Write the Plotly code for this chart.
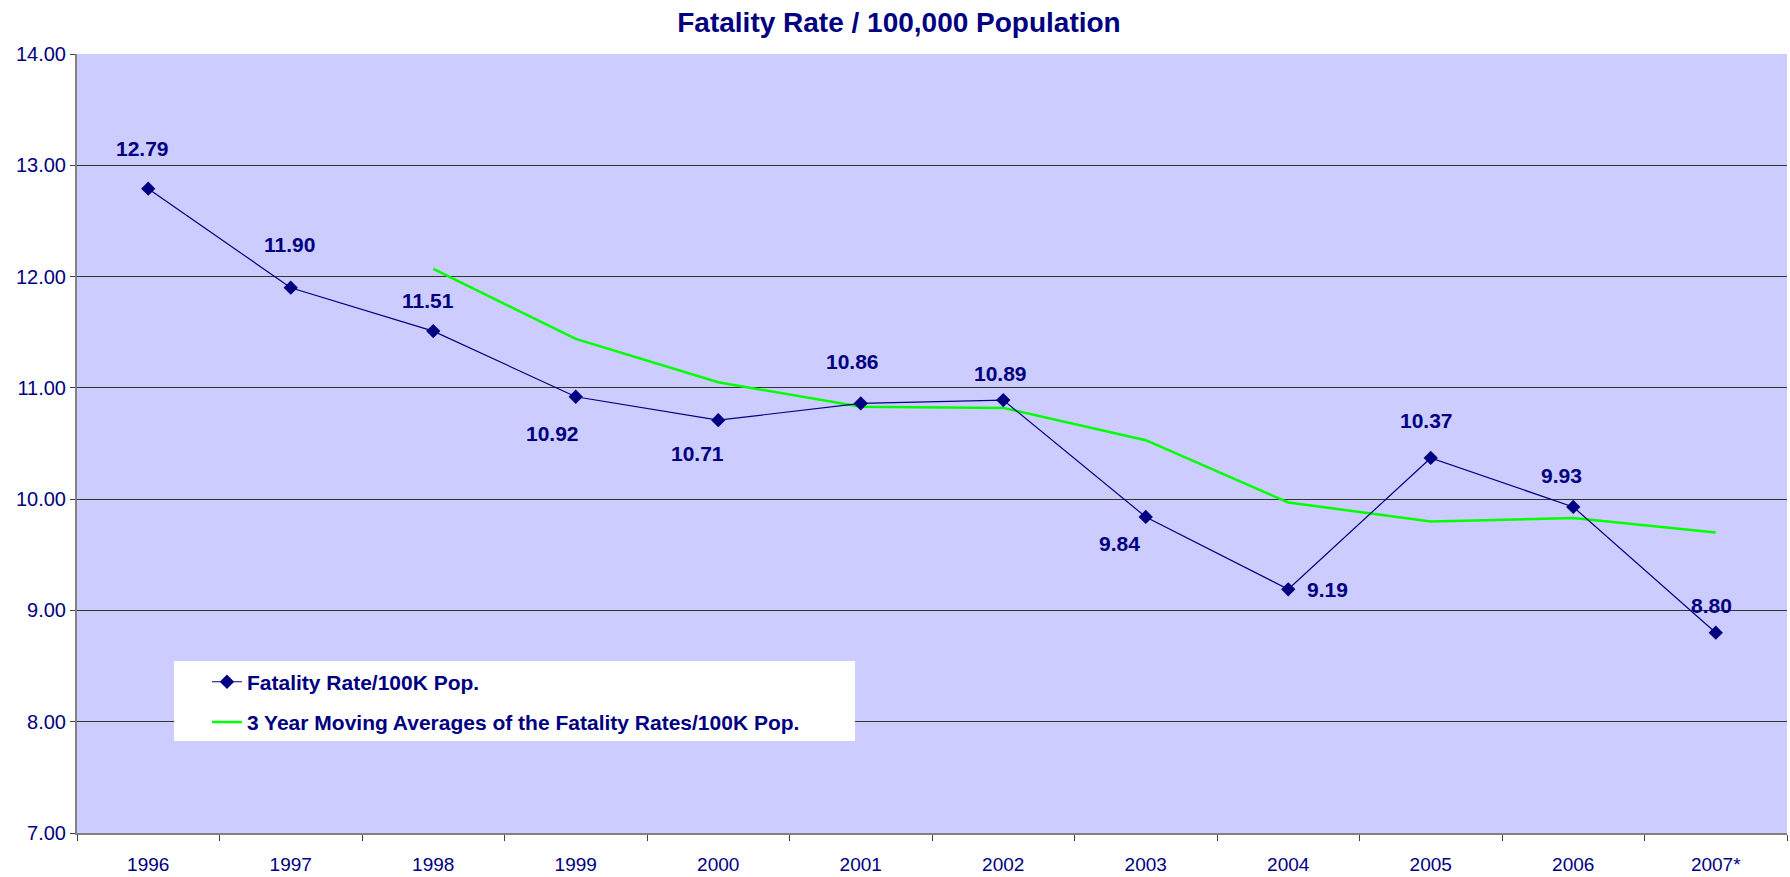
import plotly.graph_objects as go

years = ["1996", "1997", "1998", "1999", "2000", "2001", "2002", "2003", "2004", "2005", "2006", "2007*"]
rate = [12.79, 11.90, 11.51, 10.92, 10.71, 10.86, 10.89, 9.84, 9.19, 10.37, 9.93, 8.80]
ma_years = ["1998", "1999", "2000", "2001", "2002", "2003", "2004", "2005", "2006", "2007*"]
ma_values = [12.07, 11.44, 11.05, 10.83, 10.82, 10.53, 9.97, 9.80, 9.83, 9.70]

# label offsets in px (dx, dy-down) for data labels
label_dx = [-6, -1, -5, -23, -21, -8, -3, -26, 39, -4, -12, -4]
label_dy = [-40, -43, -31, 37, 33, -42, -27, 27, 0, -37, -31, -27]

NAVY = "#000080"
FONT = "Liberation Sans, Arial, sans-serif"

fig = go.Figure()
fig.add_trace(go.Scatter(
    x=ma_years, y=ma_values, mode="lines",
    name="<b>3 Year Moving Averages of the Fatality Rates/100K Pop.</b>",
    line=dict(color="#00FF00", width=2.5), legendrank=2, legendgroup="b",
))
fig.add_trace(go.Scatter(
    x=years, y=rate, mode="lines+markers",
    name="<b>Fatality Rate/100K Pop.</b>",
    line=dict(color=NAVY, width=1.2),
    marker=dict(symbol="diamond", size=11, color=NAVY), legendrank=1, legendgroup="a",
))

for i, (v, dx, dy) in enumerate(zip(rate, label_dx, label_dy)):
    fig.add_annotation(x=i, y=v, text=f"<b>{v:.2f}</b>", showarrow=False,
                       xshift=dx, yshift=-dy, font=dict(family=FONT, size=21, color=NAVY))

fig.add_shape(type="rect", xref="paper", yref="paper", x0=0.0567, x1=0.455, y0=0.118, y1=0.2208,
              fillcolor="white", line=dict(width=0), layer="above")

fig.update_layout(
    width=1790, height=877,
    margin=dict(l=77, r=3, t=54, b=44, autoexpand=False),
    paper_bgcolor="white", plot_bgcolor="#CCCCFF",
    title=dict(text="<b>Fatality Rate / 100,000 Population</b>", x=(899) / 1790, xanchor="center",
               y=1 - 22 / 877, yanchor="middle", font=dict(family=FONT, size=28, color=NAVY)),
    font=dict(family=FONT, color=NAVY),
    showlegend=True,
    legend=dict(x=0.076, y=0.220, xanchor="left", yanchor="top", bgcolor="rgba(0,0,0,0)",
                font=dict(family=FONT, size=21, color=NAVY), tracegroupgap=10,
                itemwidth=30),
    xaxis=dict(type="category", categoryorder="array", categoryarray=years,
               showgrid=False, showline=True, linecolor="#808080", linewidth=2,
               ticks="outside", tickson="boundaries", ticklen=6, tickcolor="#404040",
               tickfont=dict(family=FONT, size=19, color=NAVY), ticklabelstandoff=13,
               range=[-0.5, 11.5], fixedrange=True),
    yaxis=dict(range=[7, 14], dtick=1, tickformat=".2f",
               showgrid=True, gridcolor="#333333", gridwidth=1,
               showline=True, linecolor="#808080", linewidth=2,
               ticks="outside", ticklen=5, tickcolor="#404040",
               tickfont=dict(family=FONT, size=20, color=NAVY), zeroline=False),
)

fig.write_html("out.html", config={"displayModeBar": False},
               post_script="document.body.style.margin='0px';document.body.style.overflow='hidden';")
